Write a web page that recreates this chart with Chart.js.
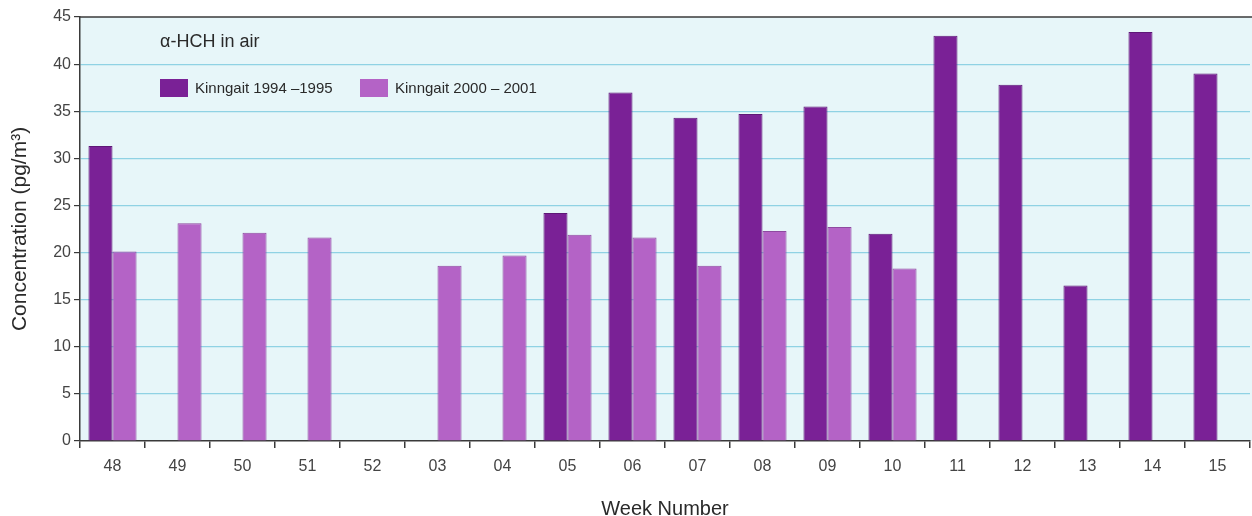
<!DOCTYPE html>
<html>
<head>
<meta charset="utf-8">
<script src="https://cdn.jsdelivr.net/npm/chart.js@4/dist/chart.umd.min.js"></script>
<style>
  html, body { margin: 0; padding: 0; background: #ffffff; }
  #wrap { width: 1252px; height: 516px; position: relative; }
</style>
</head>
<body>
<div id="wrap"><canvas id="c" width="1252" height="516"></canvas></div>
<script>
// Weekly alpha-HCH air concentrations at Kinngait (pg/m3)
const weeks = ['48', '49', '50', '51', '52', '03', '04', '05', '06', '07', '08', '09', '10', '11', '12', '13', '14', '15'];
const kinngait1994 = [31.3, null, null, null, null, null, null, 24.2, 37.0, 34.3, 34.7, 35.5, 22.0, 43.0, 37.8, 16.5, 43.4, 39.0];
const kinngait2000 = [20.1, 23.1, 22.1, 21.6, null, 18.6, 19.7, 21.9, 21.6, 18.6, 22.3, 22.7, 18.3, null, null, null, null, null];
const yTicks = [0, 5, 10, 15, 20, 25, 30, 35, 40, 45];

const chartTitle = '\u03b1-HCH in air';
const FONT = '"Liberation Sans", Arial, sans-serif';

// Light panel behind the plotting area
const panelBackground = {
  id: 'panelBackground',
  beforeDraw(chart) {
    const { ctx, chartArea: a } = chart;
    ctx.save();
    ctx.fillStyle = '#e7f6f9';
    ctx.fillRect(a.left, a.top, a.right - a.left + 4, a.bottom - a.top);
    ctx.restore();
  }
};

// Title and legend drawn inside the plot, top-left
const innerLegend = {
  id: 'innerLegend',
  afterDatasetsDraw(chart) {
    const { ctx } = chart;
    ctx.save();
    ctx.fillStyle = '#2a2a2a';
    ctx.textBaseline = 'middle';
    ctx.font = '18px ' + FONT;
    ctx.fillText(chartTitle, 160, 42);
    const slots = [160, 360];
    chart.data.datasets.forEach((ds, i) => {
      const x = slots[i];
      ctx.fillStyle = ds.backgroundColor;
      ctx.fillRect(x, 79, 28, 18);
      ctx.fillStyle = '#2a2a2a';
      ctx.font = '15px ' + FONT;
      ctx.fillText(ds.label, x + 35, 88.5);
    });
    ctx.restore();
  }
};

// Dark frame line along the top of the plot
const topFrame = {
  id: 'topFrame',
  afterDraw(chart) {
    const { ctx, chartArea: a } = chart;
    ctx.save();
    ctx.strokeStyle = '#3a3a3a';
    ctx.lineWidth = 1.5;
    ctx.beginPath();
    ctx.moveTo(a.left, a.top);
    ctx.lineTo(chart.width, a.top);
    ctx.stroke();
    ctx.restore();
  }
};

new Chart(document.getElementById('c'), {
  type: 'bar',
  data: {
    labels: weeks,
    datasets: [
      {
        label: 'Kinngait 1994 \u20131995',
        data: kinngait1994,
        backgroundColor: '#7a2196',
        borderColor: '#5e1877',
        borderWidth: 1,
        categoryPercentage: 0.74,
        barPercentage: 1.0
      },
      {
        label: 'Kinngait 2000 \u2013 2001',
        data: kinngait2000,
        backgroundColor: '#b463c6',
        borderColor: '#8e4aa0',
        borderWidth: 1,
        categoryPercentage: 0.74,
        barPercentage: 1.0
      }
    ]
  },
  options: {
    responsive: false,
    animation: false,
    layout: { padding: { top: 17, right: 2, left: 0, bottom: 0 } },
    plugins: {
      legend: { display: false },
      tooltip: { enabled: false },
      title: { display: false }
    },
    scales: {
      x: {
        offset: true,
        grid: {
          offset: true,
          drawOnChartArea: false,
          drawTicks: true,
          tickLength: 7,
          tickColor: '#3a3a3a',
          lineWidth: 1.5
        },
        border: { color: '#3a3a3a', width: 1.5 },
        ticks: {
          color: '#444444',
          font: { family: FONT, size: 16 },
          padding: 9,
          maxRotation: 0,
          autoSkip: false
        },
        title: {
          display: true,
          text: 'Week Number',
          color: '#2a2a2a',
          font: { family: FONT, size: 20 },
          padding: { top: 21, bottom: -5 }
        },
        afterFit(scale) { scale.height = 75; }
      },
      y: {
        min: 0,
        max: 45,
        afterBuildTicks(scale) { scale.ticks = yTicks.map(v => ({ value: v })); },
        grid: {
          color: ctx => (ctx.tick && (ctx.tick.value === 0 || ctx.tick.value === 45)) ? 'rgba(0,0,0,0)' : '#8fd2e4',
          lineWidth: 1.2,
          tickLength: 6,
          tickColor: '#3a3a3a'
        },
        border: { color: '#3a3a3a', width: 1.5 },
        ticks: {
          color: '#444444',
          font: { family: FONT, size: 16 },
          padding: 3
        },
        title: {
          display: true,
          text: 'Concentration (pg/m\u00b3)',
          color: '#2a2a2a',
          font: { family: FONT, size: 21 },
          padding: { top: 8, bottom: 0 }
        },
        afterFit(scale) { scale.width = 80; }
      }
    }
  },
  plugins: [panelBackground, innerLegend, topFrame]
});
</script>
</body>
</html>
